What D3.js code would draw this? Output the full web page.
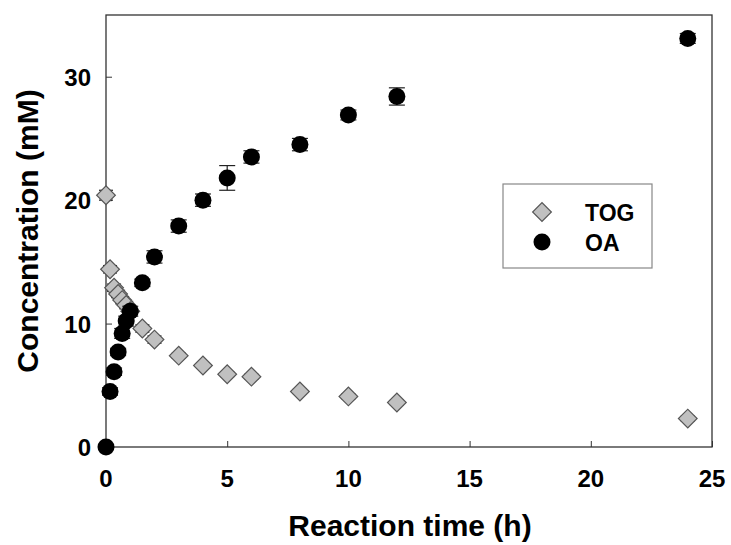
<!DOCTYPE html>
<html>
<head>
<meta charset="utf-8">
<script src="https://cdn.jsdelivr.net/npm/d3@7"></script>
<style>
  body { margin: 0; background: #fff; }
  text { font-family: "Liberation Sans", Arial, sans-serif; font-weight: bold; fill: #000; }
</style>
</head>
<body>
<div id="chart"></div>
<script>
// data
const times = [0, 0.167, 0.333, 0.5, 0.667, 0.833, 1, 1.5, 2, 3, 4, 5, 6, 8, 10, 12, 24];
const togValues = [20.4, 14.4, 12.9, 12.4, 11.9, 11.5, 11.0, 9.6, 8.7, 7.4, 6.6, 5.9, 5.7, 4.5, 4.1, 3.6, 2.3];
const togErrors = [0.4, 0.3, 0.3, 0.3, 0.3, 0.3, 0.3, 0.3, 0.3, 0.2, 0.2, 0.2, 0.2, 0.2, 0.2, 0.2, 0.2];
const oaValues = [0, 4.5, 6.1, 7.7, 9.2, 10.2, 11.0, 13.3, 15.4, 17.9, 20.0, 21.8, 23.5, 24.5, 26.9, 28.4, 33.1];
const oaErrors = [0, 0.3, 0.3, 0.3, 0.4, 0.4, 0.4, 0.3, 0.5, 0.5, 0.5, 1.0, 0.5, 0.5, 0.4, 0.7, 0.4];
const xTicks = [0, 5, 10, 15, 20, 25];
const yTicks = [0, 10, 20, 30];
const seriesNames = ["TOG", "OA"];

const width = 731, height = 545;
const margin = {top: 15, right: 19, bottom: 98, left: 106};

const svg = d3.select("#chart").append("svg")
    .attr("width", width)
    .attr("height", height);

const x = d3.scaleLinear().domain([0, 25]).range([margin.left, width - margin.right]);
const y = d3.scaleLinear().domain([0, 35]).range([height - margin.bottom, margin.top]);

// frame
svg.append("rect")
    .attr("x", x(0)).attr("y", y(35))
    .attr("width", x(25) - x(0)).attr("height", y(0) - y(35))
    .attr("fill", "none").attr("stroke", "#333").attr("stroke-width", 1.3);

// x axis, ticks pointing in
const xAxis = svg.append("g")
    .attr("transform", `translate(0,${y(0)})`)
    .call(d3.axisTop(x).tickValues(xTicks).tickSize(6).tickFormat(""));
xAxis.select(".domain").remove();
xAxis.selectAll("line").attr("stroke", "#333");
svg.append("g").selectAll("text")
    .data(xTicks).enter().append("text")
    .attr("x", d => x(d))
    .attr("y", 487)
    .attr("text-anchor", "middle")
    .style("font-size", "24px")
    .text(d => d);

// y axis
const yAxis = svg.append("g")
    .attr("transform", `translate(${x(0)},0)`)
    .call(d3.axisRight(y).tickValues(yTicks).tickSize(6).tickFormat(""));
yAxis.select(".domain").remove();
yAxis.selectAll("line").attr("stroke", "#333");
svg.append("g").selectAll("text")
    .data(yTicks).enter().append("text")
    .attr("x", x(0) - 15)
    .attr("y", d => y(d) + 9)
    .attr("text-anchor", "end")
    .style("font-size", "24px")
    .text(d => d);

// axis titles
svg.append("text")
    .attr("x", 410)
    .attr("y", 536)
    .attr("text-anchor", "middle")
    .style("font-size", "30px")
    .text("Reaction time (h)");

svg.append("text")
    .attr("transform", `translate(38,${(y(0) + y(35)) / 2}) rotate(-90)`)
    .attr("text-anchor", "middle")
    .style("font-size", "30px")
    .text("Concentration (mM)");

const tog = times.map((t, i) => ({t: t, v: togValues[i], e: togErrors[i]}));
const oa = times.map((t, i) => ({t: t, v: oaValues[i], e: oaErrors[i]}));

function errorBars(data, cap) {
    const g = svg.append("g").attr("stroke", "#222").attr("stroke-width", 1.2);
    g.selectAll(".v").data(data).enter().append("line")
        .attr("x1", d => x(d.t)).attr("x2", d => x(d.t))
        .attr("y1", d => y(d.v - d.e)).attr("y2", d => y(d.v + d.e));
    [-1, 1].forEach(s => {
        g.selectAll(".c" + s).data(data).enter().append("line")
            .attr("x1", d => x(d.t) - cap).attr("x2", d => x(d.t) + cap)
            .attr("y1", d => y(d.v + s * d.e)).attr("y2", d => y(d.v + s * d.e));
    });
}

const diamond = d3.symbol().type(d3.symbolSquare).size(175);

// TOG
errorBars(tog, 7);
svg.append("g").selectAll("path")
    .data(tog).enter().append("path")
    .attr("d", diamond)
    .attr("transform", d => `translate(${x(d.t)},${y(d.v)}) rotate(45)`)
    .attr("fill", "#c0c0c0")
    .attr("stroke", "#555")
    .attr("stroke-width", 1.2);

// OA
errorBars(oa, 8);
svg.append("g").selectAll("circle")
    .data(oa).enter().append("circle")
    .attr("cx", d => x(d.t))
    .attr("cy", d => y(d.v))
    .attr("r", 8.5)
    .attr("fill", "#000");

// legend
const legend = svg.append("g");
legend.append("rect")
    .attr("x", 503).attr("y", 184)
    .attr("width", 149).attr("height", 84)
    .attr("fill", "#fff").attr("stroke", "#888").attr("stroke-width", 1.2);
legend.append("path")
    .attr("d", diamond)
    .attr("transform", "translate(542,212) rotate(45)")
    .attr("fill", "#c0c0c0").attr("stroke", "#555").attr("stroke-width", 1.2);
legend.append("circle")
    .attr("cx", 542).attr("cy", 242).attr("r", 8.5).attr("fill", "#000");
legend.selectAll("text")
    .data(seriesNames).enter().append("text")
    .attr("x", 585)
    .attr("y", (d, i) => 221 + i * 30)
    .style("font-size", "23px")
    .text(d => d);
</script>
</body>
</html>
